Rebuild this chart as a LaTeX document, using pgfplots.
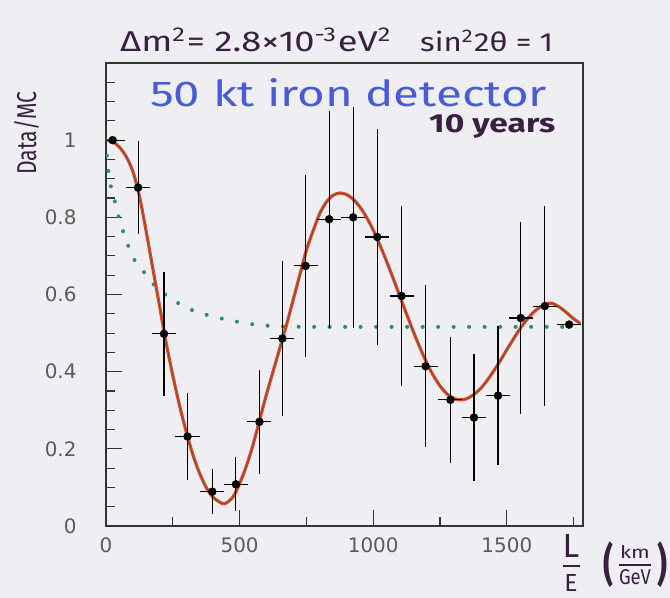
\documentclass[border=0pt]{standalone}
\usepackage{pgfplots}
\pgfplotsset{compat=1.18}
\usepackage{pgfplotstable}
\usepackage{graphicx}
\usepackage{fontspec}
\setmainfont{DejaVu Sans}
\newfontfamily\hand{Fira Sans}
\definecolor{bg}{HTML}{EFEFF3}
\definecolor{ink}{HTML}{3A2040}
\definecolor{handblue}{HTML}{4B5BD6}
\definecolor{tickgray}{HTML}{5A5A5A}
\definecolor{curvered}{HTML}{DB4E2C}
\definecolor{dotgreen}{HTML}{2E8B6E}
\definecolor{axisgray}{HTML}{333333}

\pgfplotstableread{
x y ex ey
25 1.000 45 0.01
120 0.877 45 0.12
217 0.498 45 0.16
305 0.232 45 0.113
398 0.089 45 0.058
486 0.108 45 0.07
574 0.270 45 0.134
660 0.486 45 0.20
747 0.674 45 0.236
835 0.795 45 0.281
925 0.800 45 0.286
1015 0.749 45 0.28
1106 0.596 45 0.234
1196 0.414 45 0.21
1289 0.327 45 0.163
1377 0.281 45 0.165
1467 0.338 45 0.18
1552 0.539 45 0.25
1642 0.570 45 0.26
1733 0.522 45 0.01
}\datatab

\pgfplotstableread{
x y
0 1.000
25 0.996
50 0.982
75 0.958
100 0.920
125 0.855
150 0.765
175 0.668
200 0.572
225 0.475
250 0.390
275 0.313
300 0.245
325 0.185
350 0.137
375 0.100
400 0.075
425 0.062
445 0.058
475 0.075
500 0.110
525 0.155
550 0.210
575 0.275
600 0.340
625 0.400
650 0.460
675 0.520
700 0.585
725 0.650
750 0.715
775 0.765
800 0.810
825 0.840
850 0.857
875 0.863
900 0.859
925 0.847
950 0.827
975 0.800
1000 0.767
1025 0.728
1050 0.686
1075 0.641
1100 0.595
1125 0.549
1150 0.504
1175 0.462
1200 0.423
1225 0.390
1250 0.363
1275 0.343
1300 0.331
1325 0.327
1350 0.330
1375 0.340
1400 0.355
1425 0.376
1450 0.401
1475 0.428
1500 0.457
1525 0.485
1550 0.512
1575 0.535
1600 0.554
1625 0.568
1650 0.576
1670 0.577
1700 0.566
1725 0.552
1750 0.537
1775 0.525
}\curvetab

\pgfplotstableread{
x y
0 1.000
3 0.960
8 0.925
15 0.890
30 0.850
44 0.810
61 0.770
81 0.730
106 0.690
140 0.660
173 0.630
221 0.600
264 0.580
327 0.558
389 0.545
451 0.535
526 0.525
588 0.520
663 0.517
800 0.516
1000 0.516
1250 0.516
1500 0.516
1760 0.516
}\greentab

\begin{document}
\begin{tikzpicture}[x=1bp,y=1bp]
\useasboundingbox (0,0) rectangle (670,598);
\fill[bg] (0,0) rectangle (670,598);
\begin{axis}[
  at={(106bp,72bp)}, anchor=south west,
  scale only axis, width=477bp, height=463bp,
  xmin=0, xmax=1785, ymin=0, ymax=1.2,
  axis line style={axisgray, line width=1.3bp},
  xtick={0,500,1000,1500}, minor xtick={250,750,1250,1750},
  ytick={0,0.2,0.4,0.6,0.8,1.0},
  minor ytick={0.05,0.1,0.15,0.25,0.3,0.35,0.45,0.5,0.55,0.65,0.7,0.75,0.85,0.9,0.95,1.05,1.1,1.15},
  tick align=inside, xtick pos=bottom, ytick pos=left,
  major tick length=16bp, minor tick length=9bp,
  tick style={axisgray, line width=1.1bp},
  ticklabel style={font=\fontsize{20}{24}\selectfont, text=tickgray},
  /pgf/number format/assume math mode=true,
  /pgf/number format/1000 sep={},
  xticklabel style={yshift=-8bp},
  yticklabel style={xshift=-26bp},
]
\addplot[dotgreen, line width=4bp, dash pattern=on 0bp off 15.5bp, line cap=round, smooth] table[x=x,y=y] {\greentab};
\addplot[curvered, line width=3.2bp, smooth] table[x=x,y=y] {\curvetab};
\addplot[black!70, line width=0.5bp, smooth] table[x=x,y=y] {\curvetab};
\addplot[only marks, mark=*, mark size=4bp, black,
  error bars/.cd, x dir=both, x explicit, y dir=both, y explicit,
  error bar style={line width=1.1bp, black}, error mark=none]
  table[x=x,y=y,x error=ex,y error=ey] {\datatab};
\end{axis}
% annotations
\node[anchor=base west, inner sep=0, text=ink] at (120,546) {\resizebox{272bp}{24bp}{\hand Δm\textsuperscript{2}= 2.8×10\textsuperscript{-3}eV\textsuperscript{2}}};
\node[anchor=base west, inner sep=0, text=ink] at (420,546) {\resizebox{133bp}{22bp}{\hand sin\textsuperscript{2}2θ = 1}};
\node[anchor=base west, inner sep=0, text=handblue] at (150,491) {\resizebox{397bp}{28bp}{\hand 50 kt iron detector}};
\node[anchor=base west, inner sep=0, text=ink] at (429,465) {\resizebox{126bp}{18bp}{\hand\bfseries 10 years}};
\node[anchor=base west, inner sep=0, text=ink, rotate=90] at (36,423) {\resizebox{83bp}{22bp}{\hand Data/MC}};
% L/E (km/GeV)
\node[text=ink, inner sep=0] at (571,52) {\resizebox{!}{23bp}{\hand L}};
\draw[ink, line width=1.5bp] (563,32) -- (580,32);
\node[text=ink, inner sep=0] at (571,15) {\resizebox{!}{17bp}{\hand E}};
\node[text=ink, inner sep=0] at (608,33) {\resizebox*{10bp}{46bp}{\hand\bfseries (}};
\node[text=ink, inner sep=0] at (662,33) {\resizebox*{10bp}{46bp}{\hand\bfseries )}};
\node[text=ink, inner sep=0] at (635,46) {\resizebox{30bp}{13bp}{\hand km}};
\draw[ink, line width=1.5bp] (619,33) -- (651,33);
\node[text=ink, inner sep=0] at (635,21) {\resizebox{32bp}{15bp}{\hand GeV}};
\end{tikzpicture}
\end{document}
